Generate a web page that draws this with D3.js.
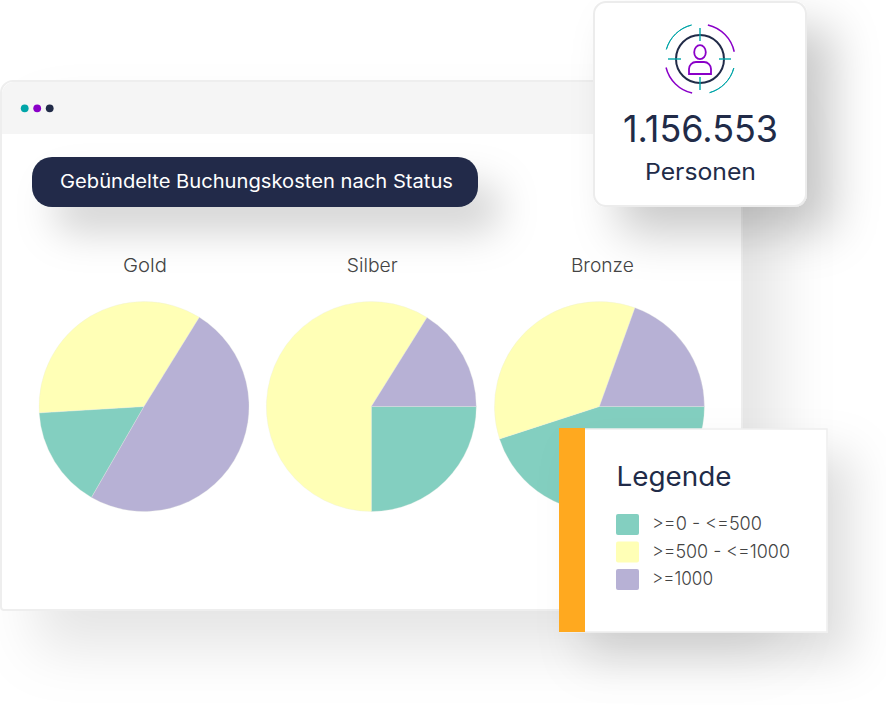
<!DOCTYPE html>
<html><head><meta charset="utf-8">
<script src="https://cdn.jsdelivr.net/npm/d3@7"></script>
<style>html,body{margin:0;padding:0;background:#fff}svg{display:block}text{font-family:Inter,"Noto Sans",sans-serif}</style>
</head><body><div id="c"></div>
<script>
const categories = ["Gold","Silber","Bronze"];
const bandLabels = [">=0 - <=500",">=500 - <=1000",">=1000"];
const lowShare  = [15.7,25.0,45.0];
const midShare  = [34.8,58.9,35.5];
const highShare = [49.5,16.1,19.5];
const firstSliceStartDeg = [210,90,90];
const bandColors = ["#83CFC0","#FFFFB6","#B7B1D5"];
const chartTitle = "Gebündelte Buchungskosten nach Status";
const kpiValue = "1.156.553";
const kpiLabel = "Personen";
const legendTitle = "Legende";

const W=886,H=710,navy="#212B48",teal="#00A5A8",violet="#8A00C8";
const svg=d3.select("#c").append("svg").attr("width",W).attr("height",H);
const defs=svg.append("defs");
function shadow(id,dx,dy,sd,op){
  const f=defs.append("filter").attr("id",id).attr("filterUnits","userSpaceOnUse")
    .attr("x",-150).attr("y",-150).attr("width",W+300).attr("height",H+300);
  f.append("feDropShadow").attr("dx",dx).attr("dy",dy).attr("stdDeviation",sd)
    .attr("flood-color","#000").attr("flood-opacity",op);
}
shadow("sWin",36,38,28,.10);
shadow("sPill",22,26,19,.17);
shadow("sCard",26,26,23,.21);
shadow("sLeg",24,26,23,.13);

function label(g,str,x,y,len,size,weight,fill,anchor){
  return g.append("text").text(str).attr("x",x).attr("y",y)
    .attr("font-size",size).attr("font-weight",weight).attr("fill",fill)
    .attr("text-anchor",anchor||"start")
    .attr("textLength",len).attr("lengthAdjust","spacingAndGlyphs");
}

// window
svg.append("path").attr("d","M1 93a12 12 0 0 1 12-12H742V610H4a3 3 0 0 1-3-3Z")
  .attr("fill","#fff").attr("stroke","#eeeeee").attr("stroke-width",2).attr("filter","url(#sWin)");
svg.append("path").attr("d","M2 134V94a12 12 0 0 1 12-12H741V134Z").attr("fill","#f5f5f5");
d3.zip([0,1,2],[teal,violet,navy]).forEach(([i,c])=>svg.append("circle")
  .attr("cx",24.7+i*12.5).attr("cy",108.3).attr("r",3.9).attr("fill",c));

// title pill
svg.append("rect").attr("x",32).attr("y",157).attr("width",446).attr("height",50).attr("rx",20)
  .attr("fill",navy).attr("filter","url(#sPill)");
label(svg,chartTitle,60,188,393,18.5,400,"#fff");

// pies
const centerScale=d3.scalePoint().domain(categories).range([144,599.4]);
const arc=d3.arc().innerRadius(0).outerRadius(105);
categories.forEach((cat,i)=>{
  const vals=[lowShare[i],midShare[i],highShare[i]];
  const a0=firstSliceStartDeg[i]*Math.PI/180;
  const pie=d3.pie().sort(null).startAngle(a0).endAngle(a0+2*Math.PI);
  const g=svg.append("g").attr("transform",`translate(${centerScale(cat)-(i==1?.4:0)},406.5)`);
  g.selectAll("path").data(pie(vals)).join("path").attr("d",arc)
    .attr("fill",(d,j)=>bandColors[j]).attr("stroke","#e8ebe0").attr("stroke-width",.3);
  const cx=centerScale(cat)+(i==0?1:i==2?3:.5);
  label(svg,cat,cx,272,[44,51,63][i],18.5,300,"#444","middle");
});

// KPI card
svg.append("rect").attr("x",594).attr("y",2).attr("width",212).attr("height",204).attr("rx",12)
  .attr("fill","#fff").attr("stroke","#ececec").attr("stroke-width",2).attr("filter","url(#sCard)");
const ic=svg.append("g").attr("transform","translate(700,59)").attr("fill","none");
ic.append("circle").attr("r",24).attr("stroke",navy).attr("stroke-width",2);
[[-32,0,-19,0],[19,0,31,0],[0,-31,0,-18],[0,18,0,31]].forEach(l=>ic.append("line")
  .attr("x1",l[0]).attr("y1",l[1]).attr("x2",l[2]).attr("y2",l[3]).attr("stroke",teal).attr("stroke-width",1.4));
const ringArc=d3.arc().innerRadius(35).outerRadius(35);
[[13,78,violet,1.5],[-74,-14,teal,1],[193,256,violet,1.5],[105,164,teal,1]].forEach(r=>ic.append("path")
  .attr("d",ringArc({startAngle:r[0]*Math.PI/180,endAngle:r[1]*Math.PI/180}))
  .attr("stroke",r[2]).attr("stroke-width",r[3]));
ic.append("ellipse").attr("cx",0).attr("cy",-6.8).attr("rx",5.8).attr("ry",7).attr("stroke",violet).attr("stroke-width",1.8);
ic.append("path").attr("d","M-11 15V10a7 7 0 0 1 7-7H4a7 7 0 0 1 7 7V15Z").attr("stroke",violet).attr("stroke-width",1.8);
label(svg,kpiValue,623,142,155,37,400,navy);
label(svg,kpiLabel,645,180,111,22.5,400,navy);

// legend
svg.append("rect").attr("x",560).attr("y",429).attr("width",267).attr("height",203)
  .attr("fill","#fff").attr("stroke","#eeeeee").attr("stroke-width",1.5).attr("filter","url(#sLeg)");
svg.append("rect").attr("x",559).attr("y",428).attr("width",26).attr("height",204).attr("fill","#FFA91F");
label(svg,legendTitle,616.5,486,115,26.5,400,navy);
const rowY=d3.scalePoint().domain(bandLabels).range([514,569]);
bandLabels.forEach((b,i)=>{
  svg.append("rect").attr("x",616).attr("y",rowY(b)).attr("width",23).attr("height",21).attr("rx",2).attr("fill",bandColors[i]);
  label(svg,b,652,rowY(b)+16,[110,138,61][i],18.5,300,"#444");
});
</script></body></html>
